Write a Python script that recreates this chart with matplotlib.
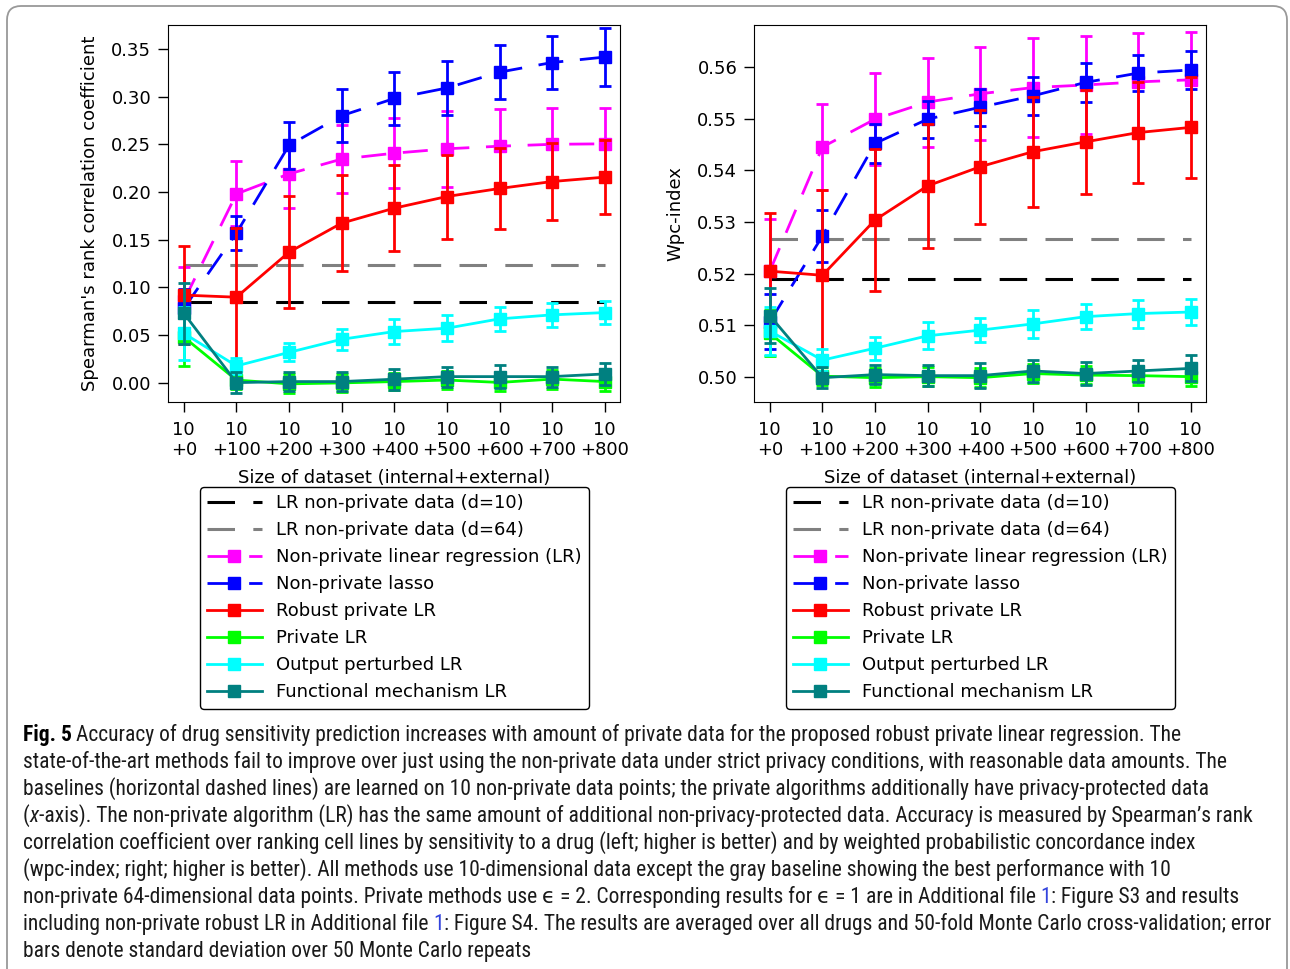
import matplotlib
matplotlib.use("Agg")
import matplotlib.pyplot as plt
from matplotlib import font_manager
from matplotlib.patches import FancyBboxPatch
from matplotlib.transforms import IdentityTransform

# x axis: 10 non-private points + extra private points
extra = [0, 100, 200, 300, 400, 500, 600, 700, 800]
tick_labels = ["10\n+%d" % e for e in extra]

# left panel: Spearman's rank correlation
sp_d10 = 0.0846
sp_d64 = 0.1237
sp_lr = [0.086, 0.198, 0.219, 0.2345, 0.2407, 0.2453, 0.248, 0.250, 0.2505]
sp_lr_sd = [0.035, 0.034, 0.036, 0.036, 0.037, 0.040, 0.039, 0.038, 0.038]
sp_lasso = [0.078, 0.157, 0.249, 0.280, 0.298, 0.309, 0.3256, 0.3357, 0.3414]
sp_lasso_sd = [0.020, 0.018, 0.0245, 0.028, 0.028, 0.028, 0.028, 0.028, 0.030]
sp_robust = [0.092, 0.0898, 0.137, 0.1674, 0.1831, 0.1953, 0.2037, 0.211, 0.2156]
sp_robust_sd = [0.051, 0.072, 0.059, 0.050, 0.045, 0.044, 0.042, 0.040, 0.039]
sp_private = [0.048, 0.003, -0.001, 0.0, 0.0014, 0.003, 0.0005, 0.004, 0.0014]
sp_private_sd = [0.030, 0.009, 0.010, 0.009, 0.009, 0.009, 0.009, 0.010, 0.010]
sp_output = [0.052, 0.0178, 0.032, 0.0457, 0.0538, 0.0573, 0.0671, 0.0713, 0.0737]
sp_output_sd = [0.028, 0.0088, 0.0093, 0.011, 0.013, 0.0137, 0.0124, 0.0125, 0.0122]
sp_func = [0.073, 0.0003, 0.0014, 0.0014, 0.0039, 0.0066, 0.0066, 0.0066, 0.0094]
sp_func_sd = [0.032, 0.011, 0.010, 0.010, 0.011, 0.0105, 0.012, 0.0105, 0.0117]

# right panel: wpc-index
wpc_d10 = 0.5189
wpc_d64 = 0.52665
wpc_lr = [0.5205, 0.5445, 0.5499, 0.5532, 0.5548, 0.5560, 0.5565, 0.5571, 0.5575]
wpc_lr_sd = [0.010, 0.0083, 0.0089, 0.0086, 0.009, 0.0096, 0.0095, 0.0094, 0.0093]
wpc_lasso = [0.5107, 0.5273, 0.5452, 0.5499, 0.5522, 0.5544, 0.5570, 0.5588, 0.5594]
wpc_lasso_sd = [0.0053, 0.005, 0.0038, 0.0036, 0.0036, 0.0037, 0.0038, 0.0035, 0.0036]
wpc_robust = [0.5205, 0.5197, 0.5304, 0.5370, 0.5407, 0.5436, 0.5455, 0.5473, 0.5483]
wpc_robust_sd = [0.0113, 0.0165, 0.0138, 0.012, 0.011, 0.0106, 0.0101, 0.0098, 0.0097]
wpc_private = [0.5085, 0.5002, 0.4999, 0.5001, 0.4999, 0.5007, 0.5004, 0.5003, 0.5001]
wpc_private_sd = [0.0045, 0.0017, 0.0018, 0.0018, 0.0018, 0.0018, 0.0018, 0.0018, 0.0018]
wpc_output = [0.5089, 0.5033, 0.5056, 0.5080, 0.5091, 0.5103, 0.5117, 0.5123, 0.5126]
wpc_output_sd = [0.0047, 0.0021, 0.0022, 0.0026, 0.0023, 0.0027, 0.0024, 0.0027, 0.0025]
wpc_func = [0.5119, 0.4999, 0.5005, 0.5003, 0.5003, 0.5012, 0.5007, 0.5012, 0.5017]
wpc_func_sd = [0.0053, 0.002, 0.0019, 0.002, 0.0024, 0.0021, 0.0023, 0.0022, 0.0025]

labels = ["LR non-private data (d=10)", "LR non-private data (d=64)",
          "Non-private linear regression (LR)", "Non-private lasso",
          "Robust private LR", "Private LR", "Output perturbed LR",
          "Functional mechanism LR"]
colors = ["black", "#808080", "magenta", "blue", "red", "#00ff00", "cyan", "#008080"]
styles = ["dash", "dash", "dash", "dash", "solid", "solid", "solid", "solid"]

caption = [
    [("Fig. 5", "bold"), (" Accuracy of drug sensitivity prediction increases with amount of private data for the proposed robust private linear regression. The", "")],
    [("state-of-the-art methods fail to improve over just using the non-private data under strict privacy conditions, with reasonable data amounts. The", "")],
    [("baselines (horizontal dashed lines) are learned on 10 non-private data points; the private algorithms additionally have privacy-protected data", "")],
    [("(", ""), ("x", "italic"), ("-axis). The non-private algorithm (LR) has the same amount of additional non-privacy-protected data. Accuracy is measured by Spearman\u2019s rank", "")],
    [("correlation coefficient over ranking cell lines by sensitivity to a drug (left; higher is better) and by weighted probabilistic concordance index", "")],
    [("(wpc-index; right; higher is better). All methods use 10-dimensional data except the gray baseline showing the best performance with 10", "")],
    [("non-private 64-dimensional data points. Private methods use ", ""), ("\u03f5 = 2", "math"), (". Corresponding results for ", ""), ("\u03f5 = 1", "math"),
     (" are in Additional file ", ""), ("1", "link"), (": Figure S3 and results", "")],
    [("including non-private robust LR in Additional file ", ""), ("1", "link"), (": Figure S4. The results are averaged over all drugs and 50-fold Monte Carlo cross-validation; error", "")],
    [("bars denote standard deviation over 50 Monte Carlo repeats", "")],
]
# right end of the widest caption lines in the reference (pixels)
caption_fit = {1: 1237, 7: 1268}

W, H = 1290, 969
FS = 13
fig = plt.figure(figsize=(W / 100, H / 100), dpi=100)


def draw_panel(ax, d10, d64, series, ylabel, ylim, yticks, yfmt):
    ax.plot(extra, [d10] * len(extra), color=colors[0], lw=2.2, linestyle=(0, (9, 6)), label=labels[0])
    ax.plot(extra, [d64] * len(extra), color=colors[1], lw=2.2, linestyle=(0, (9, 6)), label=labels[1])
    for i, (vals, sd) in enumerate(series):
        c = colors[i + 2]
        ls = (0, (9, 6)) if styles[i + 2] == "dash" else "-"
        ax.errorbar(extra, vals, yerr=sd, fmt="none", ecolor=c, elinewidth=2, capsize=4, capthick=2)
        ax.plot(extra, vals, color=c, lw=2, linestyle=ls, marker="s", markersize=8, label=labels[i + 2])
    ax.set_xlim(-30, 829)
    ax.set_ylim(*ylim)
    ax.set_xticks(extra)
    ax.set_xticklabels(tick_labels, fontsize=FS, linespacing=1.1)
    ax.set_yticks(yticks)
    ax.set_yticklabels([yfmt % v for v in yticks], fontsize=FS)
    ax.tick_params(length=7, width=1)
    ax.tick_params(axis="x", pad=7)
    ax.tick_params(axis="y", pad=5)
    ax.set_xlabel("Size of dataset (internal+external)", fontsize=FS, labelpad=7)
    ax.set_ylabel(ylabel, fontsize=FS, labelpad=9)


ax1 = fig.add_axes([168 / W, 1 - 402 / H, 452 / W, 377 / H])
draw_panel(ax1, sp_d10, sp_d64,
           [(sp_lr, sp_lr_sd), (sp_lasso, sp_lasso_sd), (sp_robust, sp_robust_sd),
            (sp_private, sp_private_sd), (sp_output, sp_output_sd), (sp_func, sp_func_sd)],
           "Spearman's rank correlation coefficient", (-0.02, 0.375),
           [0, 0.05, 0.10, 0.15, 0.20, 0.25, 0.30, 0.35], "%.2f")

ax2 = fig.add_axes([754 / W, 1 - 402 / H, 452 / W, 377 / H])
draw_panel(ax2, wpc_d10, wpc_d64,
           [(wpc_lr, wpc_lr_sd), (wpc_lasso, wpc_lasso_sd), (wpc_robust, wpc_robust_sd),
            (wpc_private, wpc_private_sd), (wpc_output, wpc_output_sd), (wpc_func, wpc_func_sd)],
           "Wpc-index", (0.4952, 0.5681),
           [0.50, 0.51, 0.52, 0.53, 0.54, 0.55, 0.56], "%.2f")

for ax, cx in [(ax1, 394.5), (ax2, 980.5)]:
    leg = ax.legend(loc="upper center", bbox_to_anchor=(cx / W, 1 - 487 / H),
                    bbox_transform=fig.transFigure, fontsize=FS, handlelength=3.0,
                    numpoints=1, framealpha=1, fancybox=True, borderaxespad=0)
    leg.get_frame().set_edgecolor("black")
    leg.get_frame().set_linewidth(1)

# outer frame of the figure panel
frame = FancyBboxPatch((7, -40), 1280, H - 6 + 40, boxstyle="round,pad=0,rounding_size=14",
                       transform=IdentityTransform(), facecolor="none",
                       edgecolor="#999999", lw=1.3)
fig.add_artist(frame)


# caption font: a regular-weight (semi)condensed humanist sans if one exists
def has_regular(name):
    for f in font_manager.fontManager.ttflist:
        if f.name == name and f.style == "normal":
            try:
                w = int(f.weight)
            except (TypeError, ValueError):
                w = 400 if f.weight in ("normal", "regular", "book") else 700
            if 300 <= w <= 500:
                return True
    return False


cap_font = next((f for f in ["Noto Sans SemiCondensed", "Open Sans SemiCondensed",
                             "Roboto Condensed", "Noto Sans Condensed",
                             "Liberation Sans Narrow", "Open Sans"] if has_regular(f)),
                "DejaVu Sans")
renderer = fig.canvas.get_renderer()


def seg_kw(style, size):
    kw = dict(fontsize=size, family=[cap_font, "DejaVu Sans"], color="#1a1a1a",
              fontweight="normal")
    if style == "bold":
        kw["fontweight"] = "bold"
        kw["color"] = "black"
    elif style == "italic":
        kw["fontstyle"] = "italic"
    elif style == "link":
        kw["color"] = "#3344dd"
    return kw


def width(s, kw):
    t = fig.text(0, 0, s, **kw)
    w = t.get_window_extent(renderer).width
    t.remove()
    return w


cap_x0 = 22.7
cap_size = min(10 * (right - cap_x0) / width("".join(s for s, _ in caption[k]), seg_kw("", 10))
               for k, right in caption_fit.items())
space_w = width("a a", seg_kw("", cap_size)) - width("aa", seg_kw("", cap_size))

for i, line in enumerate(caption):
    base = 740.7 + 27 * i
    x = cap_x0
    for s, style in line:
        kw = seg_kw(style, cap_size)
        lead = len(s) - len(s.lstrip(" "))
        trail = len(s) - len(s.rstrip(" "))
        x += lead * space_w
        t = fig.text(x / W, 1 - base / H, s.strip(" "), va="baseline", ha="left", **kw)
        x = t.get_window_extent(renderer).x1 + trail * space_w

fig.savefig("out.png", dpi=100)
